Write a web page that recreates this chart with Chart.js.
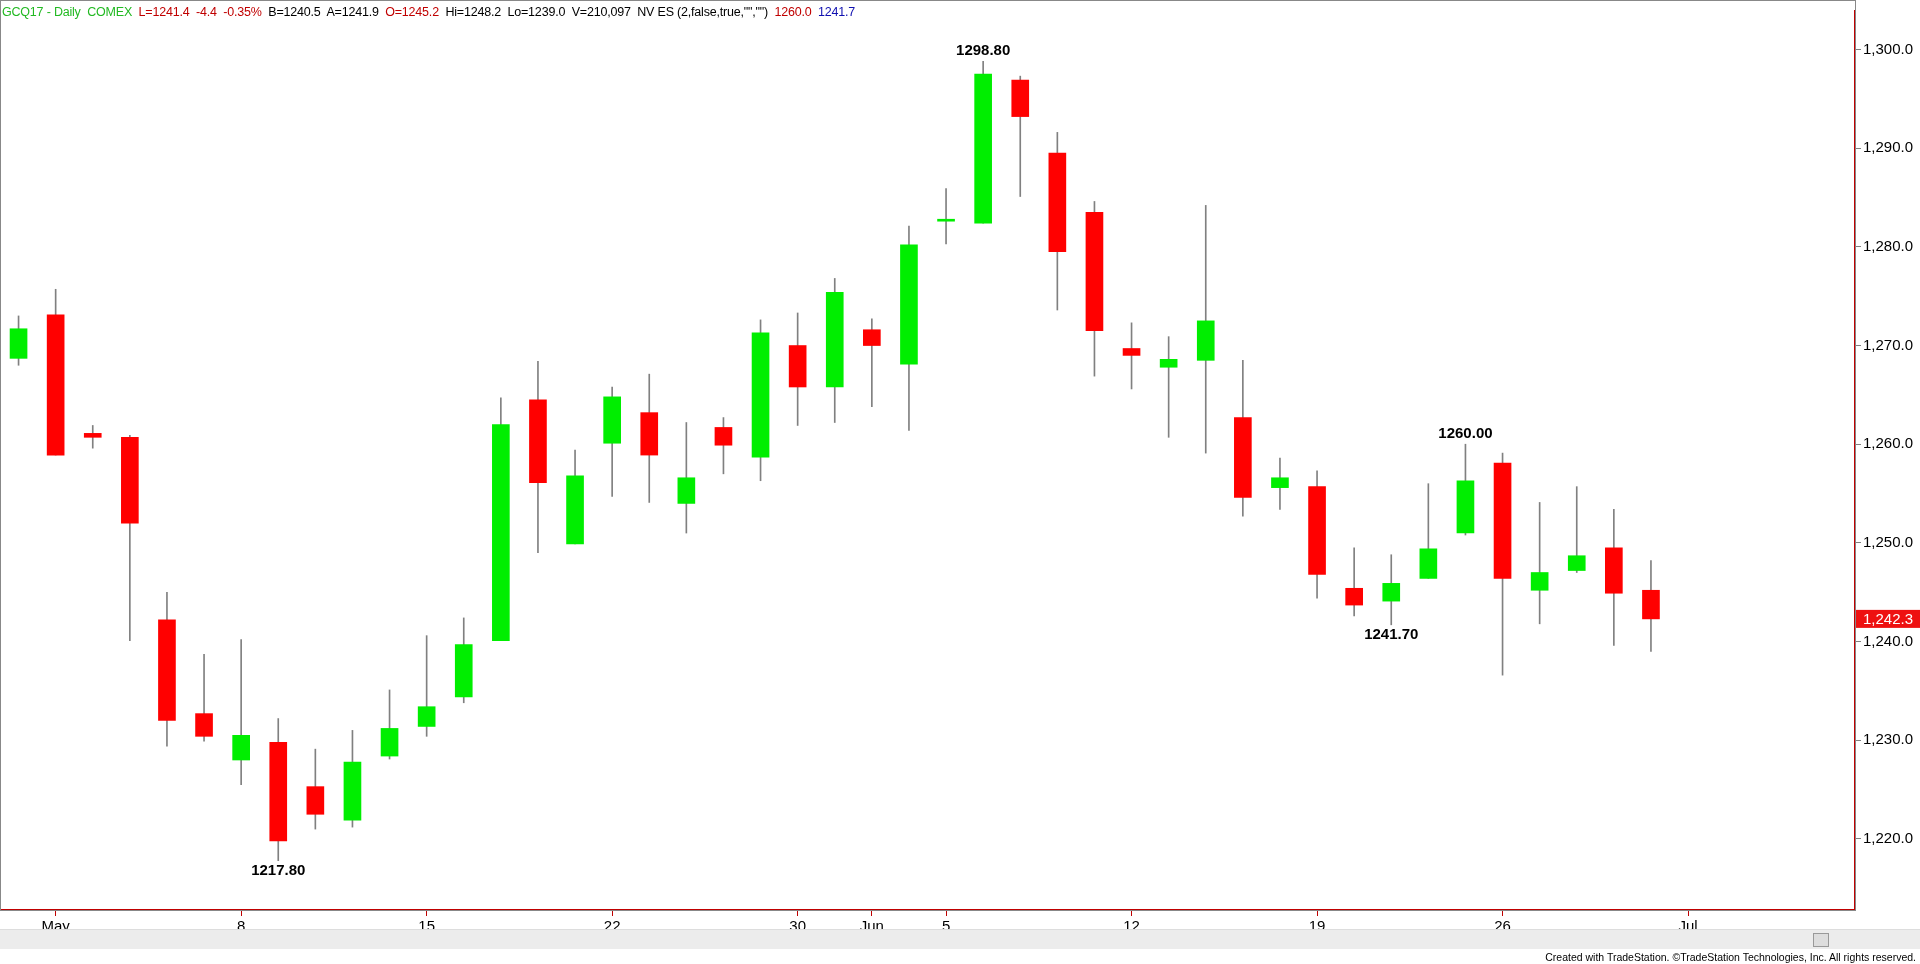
<!DOCTYPE html>
<html><head><meta charset="utf-8">
<script src="https://cdn.jsdelivr.net/npm/chart.js@4.4.1/dist/chart.umd.min.js"></script>
<style>
body{margin:0;background:#fff;font-family:"Liberation Sans",Arial,sans-serif;overflow:hidden}
#wrap{position:relative;width:1920px;height:964px}
canvas{position:absolute;left:0;top:0}
#hdr{position:absolute;left:2px;top:5px;font-size:12.5px;letter-spacing:-0.2px;white-space:pre}
#scroll{position:absolute;left:0;top:929px;width:1920px;height:19px;background:#ececec;border-top:1px solid #ddd}
#thumb{position:absolute;left:1813px;top:3px;width:14px;height:12px;background:#ddd;border:1px solid #999}
#foot{position:absolute;right:4px;top:951px;font-size:10.5px;color:#000}
</style></head><body>
<div id="wrap">
<canvas id="c" width="1920" height="964"></canvas>
<div id="hdr"><span style="color:#22b922">GCQ17 - Daily  COMEX</span>  <span style="color:#c00000">L=1241.4  -4.4  -0.35%</span>  B=1240.5  A=1241.9  <span style="color:#c00000">O=1245.2</span>  Hi=1248.2  Lo=1239.0  V=210,097  NV ES (2,false,true,"","")  <span style="color:#c00000">1260.0</span>  <span style="color:#1010b0">1241.7</span></div>
<div id="scroll"><div id="thumb"></div></div>
<div id="foot">Created with TradeStation. ©TradeStation Technologies, Inc. All rights reserved.</div>
</div>
<script>
const dates=["Apr 28","May 1","May 2","May 3","May 4","May 5","May 8","May 9","May 10","May 11","May 12","May 15","May 16","May 17","May 18","May 19","May 22","May 23","May 24","May 25","May 26","May 30","May 31","Jun 1","Jun 2","Jun 5","Jun 6","Jun 7","Jun 8","Jun 9","Jun 12","Jun 13","Jun 14","Jun 15","Jun 16","Jun 19","Jun 20","Jun 21","Jun 22","Jun 23","Jun 26","Jun 27","Jun 28","Jun 29","Jun 30","Jul 3","Jul 5","Jul 6","Jul 7","Jul 10"];
const tickLabels={"May 1":"May","May 8":"8","May 15":"15","May 22":"22","May 30":"30","Jun 1":"Jun","Jun 5":"5","Jun 12":"12","Jun 19":"19","Jun 26":"26","Jul 3":"Jul"};
const open =[1268.7,1273.1,1261.1,1260.7,1242.2,1232.7,1228.0,1229.8,1225.3,1221.9,1228.4,1231.4,1234.4,1240.1,1264.5,1249.9,1260.1,1263.2,1254.0,1261.7,1258.7,1270.0,1265.8,1271.6,1268.1,1282.6,1282.4,1296.9,1289.5,1283.5,1269.7,1267.8,1268.5,1262.7,1255.6,1255.7,1245.4,1244.1,1246.4,1251.0,1258.1,1245.2,1247.2,1249.5,1245.2];
const high =[1273.0,1275.7,1261.9,1260.9,1245.0,1238.7,1240.2,1232.2,1229.1,1231.0,1235.1,1240.6,1242.4,1264.7,1268.4,1259.4,1265.8,1267.1,1262.2,1262.7,1272.6,1273.3,1276.8,1272.7,1282.1,1285.9,1298.8,1297.3,1291.6,1284.6,1272.3,1270.9,1284.2,1268.5,1258.6,1257.3,1249.5,1248.8,1256.0,1260.0,1259.1,1254.1,1255.7,1253.4,1248.2];
const low  =[1268.0,1258.9,1259.6,1240.1,1229.4,1229.9,1225.5,1217.8,1221.0,1221.2,1228.1,1230.4,1233.8,1240.1,1249.0,1249.9,1254.7,1254.1,1251.0,1257.0,1256.3,1261.9,1262.2,1263.8,1261.4,1280.3,1282.4,1285.1,1273.6,1266.9,1265.6,1260.7,1259.1,1252.7,1253.4,1244.4,1242.6,1241.7,1246.4,1250.8,1236.6,1241.8,1247.0,1239.6,1239.0];
const close=[1271.7,1258.9,1260.7,1252.0,1232.0,1230.4,1230.5,1219.8,1222.5,1227.8,1231.2,1233.4,1239.7,1262.0,1256.1,1256.8,1264.8,1258.9,1256.6,1259.9,1271.3,1265.8,1275.4,1270.0,1280.2,1282.8,1297.5,1293.2,1279.5,1271.5,1269.0,1268.6,1272.5,1254.6,1256.6,1246.8,1243.7,1245.9,1249.4,1256.3,1246.4,1247.0,1248.7,1244.9,1242.3];
const yTicks=[1220,1230,1240,1250,1260,1270,1280,1290,1300];
const notes=[{i:26,v:1298.8,text:"1298.80",pos:"above"},{i:7,v:1217.8,text:"1217.80",pos:"below"},{i:39,v:1260.0,text:"1260.00",pos:"above"},{i:37,v:1241.7,text:"1241.70",pos:"below"}];
const lastPrice=1242.3;

const GREEN="#00ee00",RED="#ff0000",AXIS="#c00000";
const bodyColors=open.map((o,i)=>close[i]>=o?GREEN:RED);
const extras={id:"extras",afterDatasetsDraw(ch){
  const c=ch.ctx,x=ch.scales.x,y=ch.scales.y;
  c.save();c.font="bold 15px 'Liberation Sans',Arial";c.fillStyle="#000";c.textAlign="center";
  notes.forEach(n=>{const px=x.getPixelForValue(n.i);const py=y.getPixelForValue(n.v);
    if(n.pos==="above"){c.textBaseline="bottom";c.fillText(n.text,px,py-3);}else{c.textBaseline="top";c.fillText(n.text,px,py+3);}});
  const py=y.getPixelForValue(lastPrice);
  c.fillStyle="#ee1111";c.fillRect(ch.chartArea.right+1,py-9,64,18);
  c.fillStyle="#fff";c.font="15px 'Liberation Sans',Arial";c.textAlign="left";c.textBaseline="middle";
  c.fillText(lastPrice.toLocaleString("en-US",{minimumFractionDigits:1}),ch.chartArea.right+8,py+1);
  c.strokeStyle="#888";c.lineWidth=1;c.strokeRect(0.5,0.5,ch.chartArea.right,ch.chartArea.bottom);
  c.restore();}};
new Chart(document.getElementById("c"),{
  type:"bar",
  data:{labels:dates,datasets:[
    {data:low.map((l,i)=>[l,high[i]]),backgroundColor:"#808080",barThickness:1,grouped:false,order:2},
    {data:open.map((o,i)=>[o,close[i]]),backgroundColor:bodyColors,barThickness:17,grouped:false,order:1,minBarLength:1}
  ]},
  options:{responsive:false,animation:false,events:[],
    layout:{padding:{top:0,left:0,right:0,bottom:0}},
    plugins:{legend:{display:false},tooltip:{enabled:false}},
    scales:{
      x:{offset:true,grid:{offset:false,drawOnChartArea:false,color:(ctx)=>tickLabels[dates[ctx.index]]?AXIS:"rgba(0,0,0,0)",tickLength:6},border:{color:AXIS,width:2},
        ticks:{autoSkip:false,maxRotation:0,color:"#000",font:{size:15,family:"'Liberation Sans',Arial"},padding:2,
          callback:(v)=>tickLabels[dates[v]]||""},
        afterFit:(s)=>{s.height=54;}},
      y:{position:"right",min:1212.8,max:1303.9,
        afterBuildTicks:(s)=>{s.ticks=yTicks.map(v=>({value:v}));},
        grid:{drawOnChartArea:false,color:"#808080",tickLength:6},border:{color:AXIS,width:2},
        ticks:{color:"#000",font:{size:15,family:"'Liberation Sans',Arial"},padding:2,
          callback:(v)=>Number(v).toLocaleString("en-US",{minimumFractionDigits:1})},
        afterFit:(s)=>{s.width=65;}}
    }},
  plugins:[extras]});
</script></body></html>
